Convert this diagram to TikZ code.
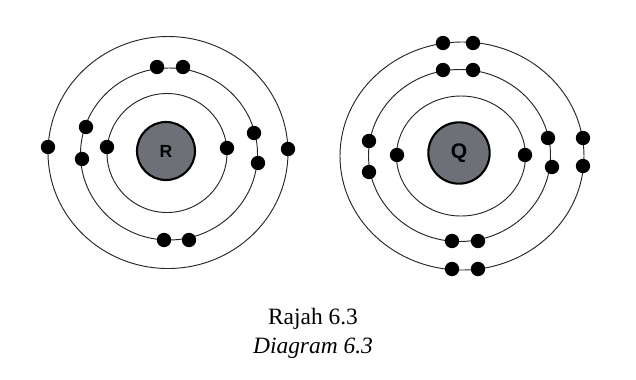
\documentclass[tikz,border=0pt]{standalone}
\usepackage{fontspec}
\setmainfont{Liberation Serif}
\setsansfont{Liberation Sans}
\usetikzlibrary{positioning}
\definecolor{coregray}{HTML}{6E7078}

\begin{document}
\begin{tikzpicture}[x=0.03cm, y=-0.03cm,
    nucleus/.style={circle, draw=black, line width=1.8pt, fill=coregray,
                    inner sep=0pt},
    electron/.style={circle, fill=black, inner sep=0pt, minimum size=0.43cm},
    orbit/.style={draw=black!85, line width=0.8pt},
    caption/.style={font=\fontsize{20}{22}\selectfont, align=center}
]
\useasboundingbox (0,0) rectangle (636,379);

% --- nuclei ---
\node[nucleus, minimum size=1.74cm, font=\sffamily\bfseries\fontsize{15}{15}\selectfont] (coreR) at (166,151) {R};
\node[nucleus, minimum size=1.84cm, font=\sffamily\bfseries\fontsize{18}{18}\selectfont] (coreQ) at (459,153) {Q};

% --- shells of R ---
\draw[orbit] (167,153) ellipse [x radius=60, y radius=59.5];
\draw[orbit] (169,154) ellipse [x radius=88.5, y radius=86];
\draw[orbit] (168,152.5) ellipse [x radius=120, y radius=116];

% --- shells of Q ---
\draw[orbit] (461,156) ellipse [x radius=64.5, y radius=60];
\draw[orbit] (459.5,155.5) ellipse [x radius=91, y radius=86];
\draw[orbit] (462,156) ellipse [x radius=122, y radius=114];

% --- electrons of R (2.8.2) ---
\foreach \name/\px/\py in {rA/107/147, rB/227/148,
    rC/157/67, rD/183/67, rE/86/127, rF/82/159, rG/254/133, rH/258/163,
    rI/164/240, rJ/189/240,
    rK/48/147, rL/288/149}
  \node[electron] (\name) at (\px,\py) {};

% --- electrons of Q (2.8.6) ---
\foreach \name/\px/\py in {qA/397/155, qB/525/155,
    qC/443/70, qD/473/70, qE/369/141, qF/369/172, qG/548/138, qH/552/167,
    qI/452/241, qJ/478/241,
    qK/443/43, qL/473/43, qM/583/138, qN/583/166, qO/452/269, qP/478/269}
  \node[electron] (\name) at (\px,\py) {};

% --- caption ---
\node[caption] (title) at (313,319) {Rajah 6.3};
\node[caption, below=0cm of title, font=\fontsize{20}{22}\selectfont\itshape] (subtitle) {Diagram 6.3};

\end{tikzpicture}
\end{document}
